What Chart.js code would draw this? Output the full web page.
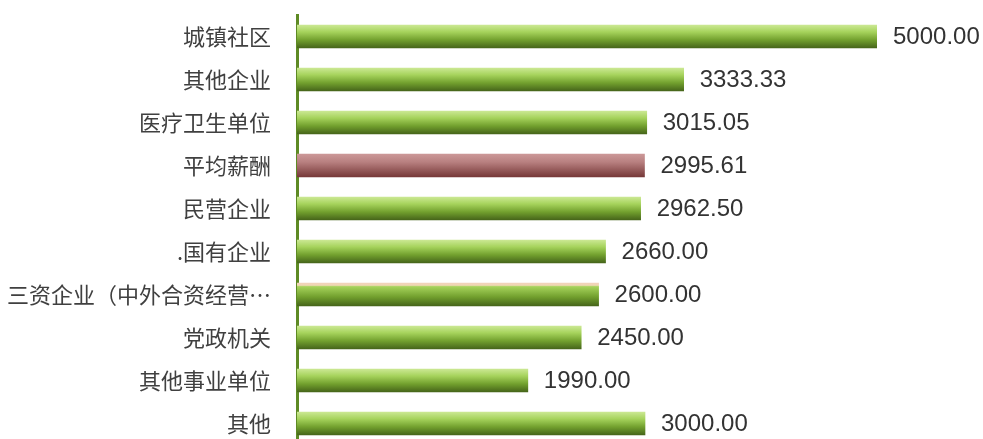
<!DOCTYPE html>
<html>
<head>
<meta charset="utf-8">
<script src="https://cdn.jsdelivr.net/npm/chart.js@4/dist/chart.umd.min.js"></script>
<style>
  html, body { margin: 0; padding: 0; background: #fff; overflow: hidden; }
  #wrap { width: 983px; height: 446px; }
</style>
</head>
<body>
<div id="wrap"><canvas id="salaryChart"></canvas></div>
<script>
const categories = ['城镇社区', '其他企业', '医疗卫生单位', '平均薪酬', '民营企业', '.国有企业',
  '三资企业（中外合资经营…', '党政机关', '其他事业单位', '其他'];
const salaries = [5000.00, 3333.33, 3015.05, 2995.61, 2962.50, 2660.00, 2600.00, 2450.00, 1990.00, 3000.00];
const averageLabel = '平均薪酬';
const oddLabel = '三资企业（中外合资经营…';

const greenStops = [[0, '#cbe893'], [0.3, '#a6d35c'], [0.65, '#72a02e'], [1, '#46651a']];
const redStops = [[0, '#cc9898'], [0.35, '#b88080'], [1, '#763838']];
const oddStops = [[0, '#f2d2bc'], [0.1, '#f0d8b4'], [0.16, '#a6d35c'], [0.6, '#72a02e'], [1, '#46651a']];

const barGradient = (context) => {
  const chart = context.chart;
  const yScale = chart.scales.y;
  if (!yScale) return '#8cbf45';
  const center = yScale.getPixelForValue(context.dataIndex);
  if (!Number.isFinite(center)) return '#8cbf45';
  const label = categories[context.dataIndex];
  const stops = label === averageLabel ? redStops : (label === oddLabel ? oddStops : greenStops);
  const g = chart.ctx.createLinearGradient(0, center - 11.5, 0, center + 11.5);
  stops.forEach(([at, color]) => g.addColorStop(at, color));
  return g;
};

const valueLabels = {
  id: 'valueLabels',
  afterDatasetsDraw(chart) {
    const { ctx } = chart;
    const meta = chart.getDatasetMeta(0);
    ctx.save();
    ctx.font = '24px "Liberation Sans", Arial, sans-serif';
    ctx.fillStyle = '#333333';
    ctx.textAlign = 'left';
    ctx.textBaseline = 'middle';
    meta.data.forEach((bar, i) => {
      ctx.fillText(salaries[i].toFixed(2), bar.x + 16, bar.y + 0.5);
    });
    ctx.restore();
  }
};

new Chart(document.getElementById('salaryChart'), {
  type: 'bar',
  data: {
    labels: categories,
    datasets: [{
      data: salaries,
      backgroundColor: barGradient,
      borderWidth: 0,
      barThickness: 23
    }]
  },
  options: {
    indexAxis: 'y',
    responsive: true,
    maintainAspectRatio: false,
    animation: false,
    layout: { padding: { top: 15, right: 106, bottom: 1, left: 0 } },
    plugins: { legend: { display: false }, tooltip: { enabled: false } },
    scales: {
      x: { display: false, min: 0, max: 5000 },
      y: {
        grid: { display: false },
        border: { display: true, color: '#5e8a24', width: 3 },
        ticks: {
          color: '#404040',
          padding: 18,
          font: { family: '"Noto Sans CJK SC", sans-serif', size: 22 }
        },
        afterFit(scale) {
          scale.width = 297;
          scale.paddingTop = 0;
          scale.paddingBottom = 0;
        }
      }
    }
  },
  plugins: [valueLabels]
});
</script>
</body>
</html>
